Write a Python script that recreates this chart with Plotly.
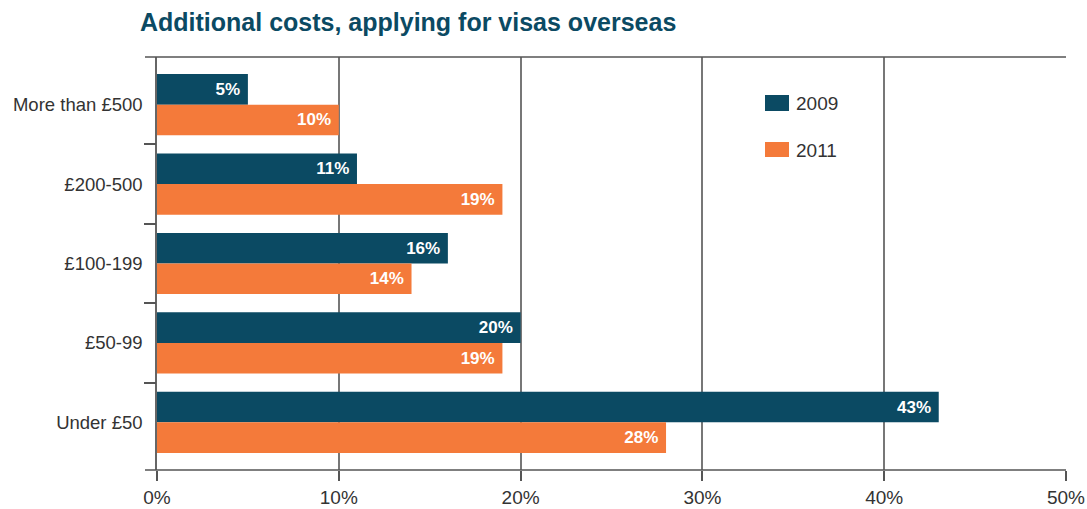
import plotly.graph_objects as go

categories = ["More than £500", "£200-500", "£100-199", "£50-99", "Under £50"]
series_names = ["2009", "2011"]
values_2009 = [5, 11, 16, 20, 43]
values_2011 = [10, 19, 14, 19, 28]
x_ticks = [0, 10, 20, 30, 40, 50]
x_tick_labels = ["0%", "10%", "20%", "30%", "40%", "50%"]
boundary_ticks = [0.5, 1.5, 2.5, 3.5]
title_text = "Additional costs, applying for visas overseas"

colors = ["#0b4a63", "#f47a3a"]
FONT = "Liberation Sans, Arial, Helvetica, sans-serif"

W, H = 1087, 509
ML, MR, MT, MB = 157, 21, 57, 39
PW = W - ML - MR
PH = H - MT - MB

fig = go.Figure()
for name, vals, col in zip(series_names, [values_2009, values_2011], colors):
    fig.add_trace(go.Bar(
        y=categories, x=vals, orientation="h", name=name,
        marker=dict(color=col, line=dict(width=0)),
        text=[f"{v}%&nbsp;" for v in vals], textposition="inside",
        insidetextanchor="end", textangle=0,
        textfont=dict(family=FONT, size=17, color="white", weight="bold"),
        showlegend=False, hoverinfo="x+y",
    ))

# invisible helper trace to carry the numeric overlay axis (internal boundary ticks)
fig.add_trace(go.Scatter(x=[None], y=[None], yaxis="y2", showlegend=False, hoverinfo="skip"))

def px_x(p):
    return (p - ML) / PW
def px_y(p):
    return (H - MB - p) / PH

# manual legend built from series names / colours
legend_rows = [(95, 111, 103), (142, 157, 150)]
for name, col, (y0, y1, yc) in zip(series_names, colors, legend_rows):
    fig.add_shape(type="rect", xref="paper", yref="paper",
                  x0=px_x(765), x1=px_x(789), y0=px_y(y1), y1=px_y(y0),
                  fillcolor=col, line=dict(width=0))
    fig.add_annotation(xref="paper", yref="paper", x=px_x(794), y=px_y(yc),
                       xanchor="left", yanchor="middle", text=name, showarrow=False,
                       font=dict(family=FONT, size=19, color="#333333"))

# top and bottom frame lines extending slightly left
for yy in [0, 1]:
    fig.add_shape(type="line", xref="paper", yref="paper",
                  x0=px_x(145), x1=1, y0=yy, y1=yy,
                  line=dict(color="#555555", width=1.5), layer="above")

fig.update_layout(
    width=W, height=H,
    margin=dict(l=ML, r=MR, t=MT, b=MB, autoexpand=False),
    paper_bgcolor="white", plot_bgcolor="white",
    barmode="group", bargap=0.23, bargroupgap=0,
    uniformtext=dict(minsize=17, mode="show"),
    title=dict(text=title_text, x=140 / W, xref="container", xanchor="left",
               y=1 - 22 / H, yref="container", yanchor="middle", pad=dict(l=0, r=0, t=0, b=0),
               font=dict(family=FONT, size=25, color="#0b4a63", weight="bold")),
    font=dict(family=FONT, size=19, color="#333333"),
    xaxis=dict(range=[0, 50], tickvals=x_ticks, ticktext=x_tick_labels,
               showgrid=True, gridcolor="#777777", gridwidth=1.5,
               zeroline=False, showline=False, automargin=False,
               ticks="outside", ticklen=10, tickcolor="#555555", tickwidth=1.5,
               tickfont=dict(family=FONT, size=19, color="#333333"),
               fixedrange=True),
    yaxis=dict(type="category", categoryorder="array", categoryarray=categories,
               range=[4.6, -0.6], ticks="", ticklabelstandoff=9,
               showline=True, linecolor="#666666", linewidth=1.5,
               showgrid=False, zeroline=False, automargin=False,
               tickfont=dict(family=FONT, size=18.5, color="#333333"),
               fixedrange=True),
    yaxis2=dict(overlaying="y", side="left", anchor="x", range=[4.6, -0.6],
                tickvals=boundary_ticks, showticklabels=False,
                ticks="outside", ticklen=12, tickcolor="#555555", tickwidth=1.5,
                showgrid=False, zeroline=False, showline=False, automargin=False,
                fixedrange=True),
)

fig.write_html("out.html", config={"displayModeBar": False},
               post_script="document.body.style.margin='0';")
